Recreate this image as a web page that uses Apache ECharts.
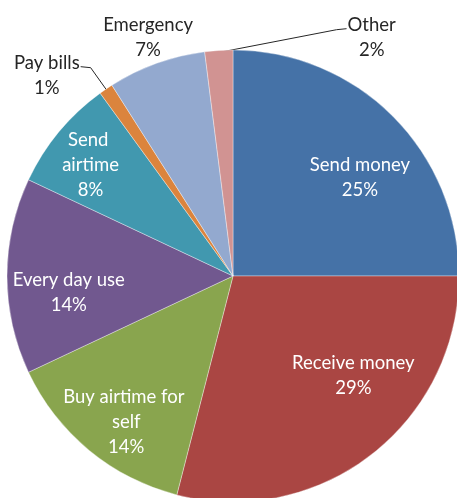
<!DOCTYPE html>
<html>
<head>
<meta charset="utf-8">
<style>
  html, body { margin: 0; padding: 0; background: #fff; }
  #chart { width: 457px; height: 498px; }
</style>
<script src="https://cdn.jsdelivr.net/npm/echarts@6/dist/echarts.min.js"></script>
</head>
<body>
<div id="chart"></div>
<script>
// Mobile money usage shares (percent)
const categories = ['Send money', 'Receive money', 'Buy airtime for self', 'Every day use',
                    'Send airtime', 'Pay bills', 'Emergency', 'Other'];
const shares = [25, 29, 14, 14, 8, 1, 7, 2];

// Slice colours
const sliceColors = ['#4572A7', '#AA4643', '#89A54E', '#71588F',
                     '#4198AF', '#DB843D', '#93A9CF', '#D19392'];

// Where each label sits: [angle in degrees clockwise from 12 o'clock, distance as a fraction of radius]
const labelSpots = [[52.3, 0.71], [129.5, 0.69], [216.2, 0.80], [264.4, 0.73],
                    [308, 0.80], [317.1, 1.21], [340.4, 1.12], [30.2, 1.22]];
// Wrap width for labels that break over several lines (0 = no wrapping)
const wrapWidth = [0, 0, 150, 0, 70, 0, 0, 0];
// Labels drawn outside the pie, and which ones get a leader line
const outsideLabels = [false, false, false, false, false, true, true, true];
const leaderSide = [0, 0, 0, 0, 0, 1, 0, -1]; // 1: line leaves label's right end, -1: left end

const CX = 233, CY = 276, R = 226;
const FONT = 'Lato';

const chart = echarts.init(document.getElementById('chart'), null, { renderer: 'canvas' });

const total = shares.reduce((a, b) => a + b, 0);
const midAngles = [];
{
  let acc = 0;
  shares.forEach(v => { midAngles.push((acc + v / 2) / total * 360); acc += v; });
}
const polar = (deg, dist) => {
  const a = deg * Math.PI / 180;
  return [CX + dist * Math.sin(a), CY - dist * Math.cos(a)];
};

const data = categories.map((name, i) => ({
  name,
  value: shares[i],
  itemStyle: { color: sliceColors[i] },
  label: Object.assign(
    { color: outsideLabels[i] ? '#262626' : '#ffffff' },
    wrapWidth[i] ? { width: wrapWidth[i], overflow: 'break' } : {}
  )
}));

chart.setOption({
  animation: false,
  series: [{
    type: 'pie',
    center: [CX, CY],
    radius: [0, R],
    startAngle: 90,
    clockwise: true,
    avoidLabelOverlap: false,
    itemStyle: { borderColor: 'rgba(255,255,255,0.6)', borderWidth: 0.6 },
    label: {
      show: true,
      position: 'inside',
      fontFamily: FONT,
      fontSize: 18.5,
      lineHeight: 25,
      align: 'center',
      verticalAlign: 'middle',
      formatter: p => p.name + '\n' + p.value + '%'
    },
    labelLine: { show: false },
    labelLayout: params => {
      const i = params.dataIndex;
      const [x, y] = polar(labelSpots[i][0], labelSpots[i][1] * R);
      return { x, y, align: 'center', verticalAlign: 'middle' };
    },
    data
  }],
  graphic: []
});

// Leader lines for the small outer slices, from the slice rim to the label
const leaders = [];
const seriesData = chart.getModel().getSeriesByIndex(0).getData();
seriesData.each(i => {
  if (!leaderSide[i]) return;
  const el = seriesData.getItemGraphicEl(i);
  const label = el && el.getTextContent();
  if (!label) return;
  const rect = label.getBoundingRect().clone();
  rect.applyTransform(label.getComputedTransform());
  const rim = polar(midAngles[i], R - 2);
  const yLine = rect.y + 16;
  const endX = leaderSide[i] > 0 ? rect.x + rect.width + 1 : rect.x - 1;
  const elbowX = endX + leaderSide[i] * 10;
  leaders.push({
    type: 'polyline',
    silent: true,
    shape: { points: [[endX, yLine], [elbowX, yLine + 1], rim] },
    style: { stroke: '#262626', lineWidth: 1, fill: null }
  });
});
chart.setOption({ graphic: leaders });
</script>
</body>
</html>
